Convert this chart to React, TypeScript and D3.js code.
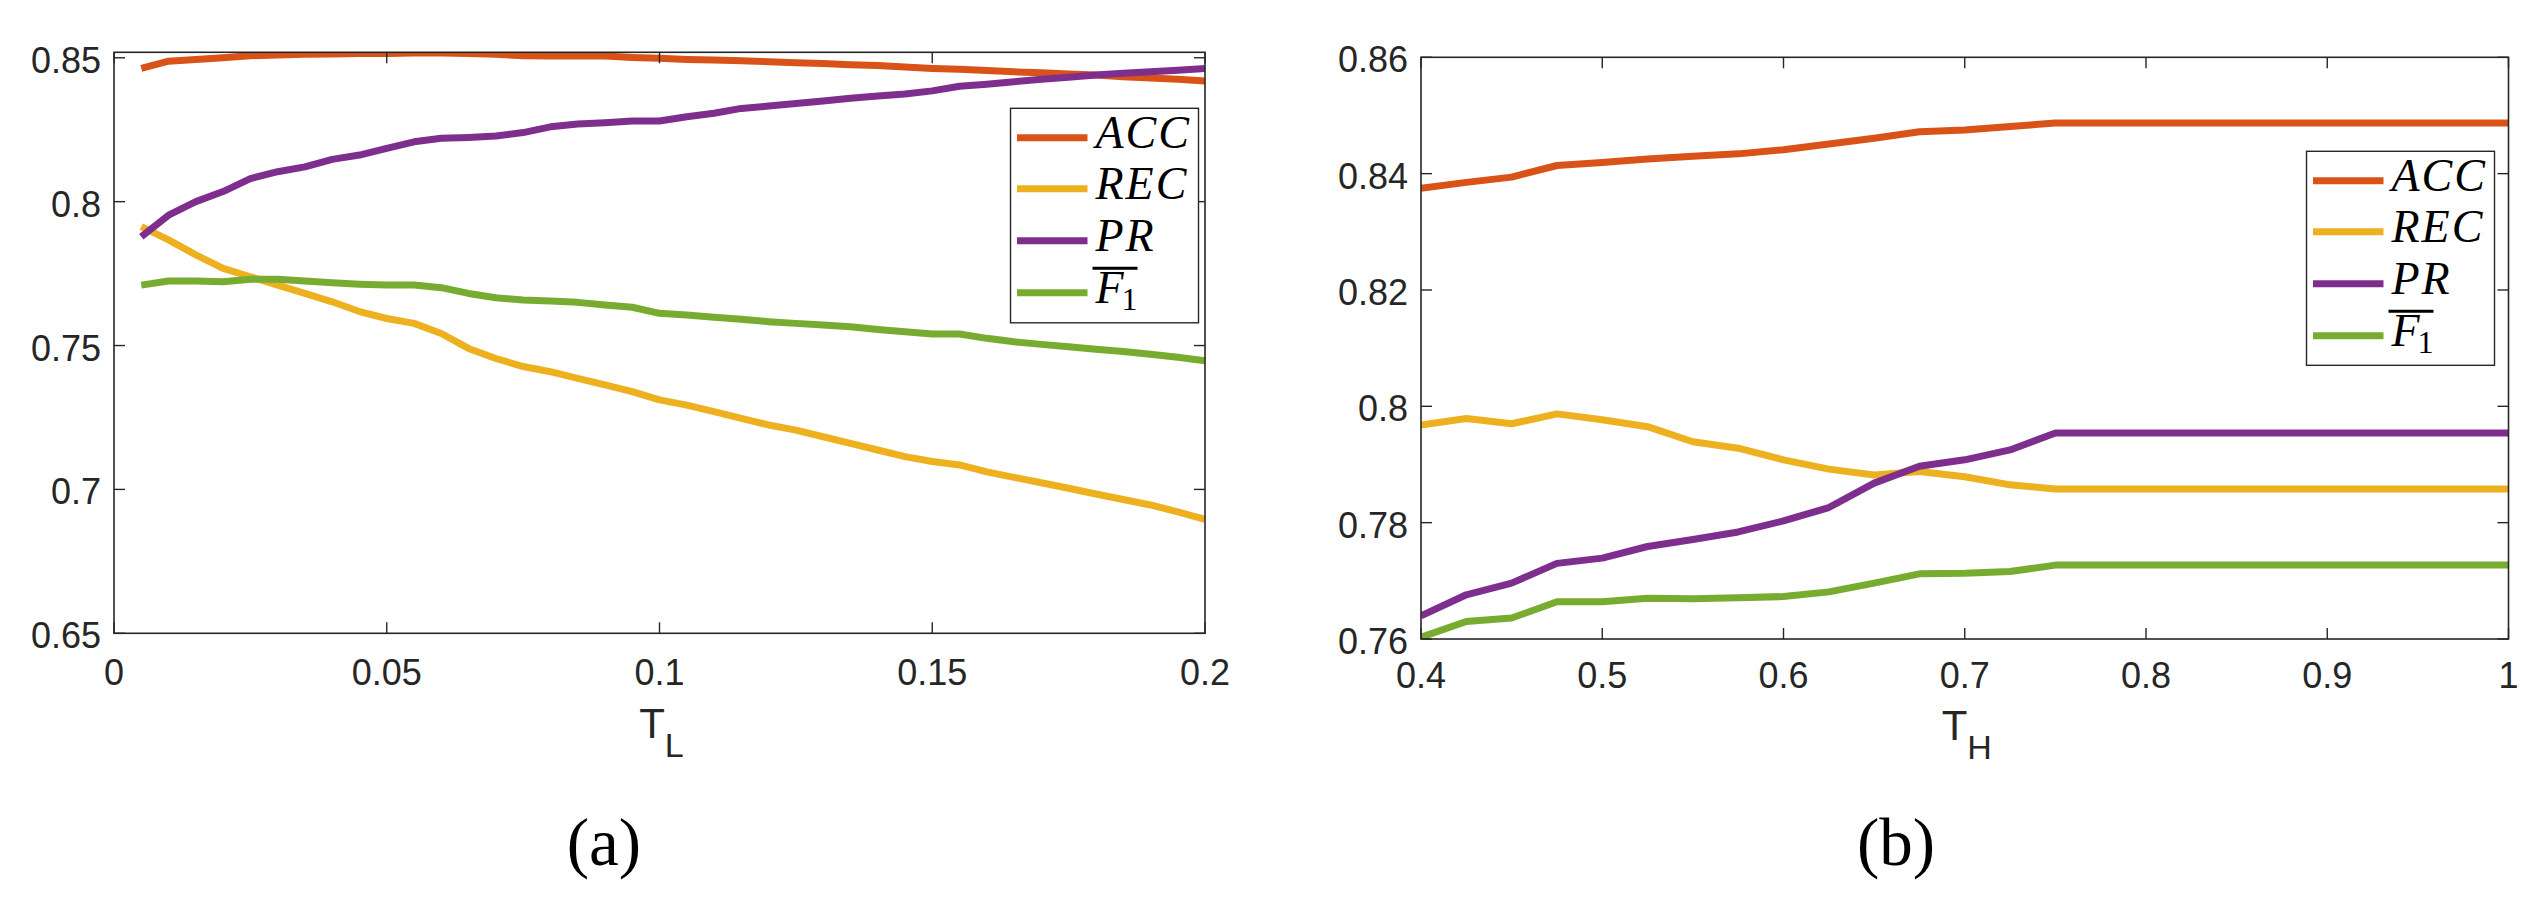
import React from "react";
import * as d3 from "d3";

// ---------- data ----------
const TL = [0.005, 0.01, 0.015, 0.02, 0.025, 0.03, 0.035, 0.04, 0.045, 0.05,
  0.055, 0.06, 0.065, 0.07, 0.075, 0.08, 0.085, 0.09, 0.095, 0.1,
  0.105, 0.11, 0.115, 0.12, 0.125, 0.13, 0.135, 0.14, 0.145, 0.15,
  0.155, 0.16, 0.165, 0.17, 0.175, 0.18, 0.185, 0.19, 0.195, 0.2];

const accL = [0.8463, 0.8488, 0.8494, 0.8500, 0.8507, 0.8510, 0.8512, 0.8513, 0.8515, 0.8515,
  0.8517, 0.8517, 0.8515, 0.8512, 0.8507, 0.8506, 0.8506, 0.8506, 0.8501, 0.8498,
  0.8494, 0.8492, 0.8490, 0.8486, 0.8483, 0.8480, 0.8476, 0.8473, 0.8468, 0.8463,
  0.8460, 0.8456, 0.8451, 0.8448, 0.8444, 0.8440, 0.8434, 0.8430, 0.8425, 0.8419];
const recL = [0.7913, 0.7867, 0.7815, 0.7768, 0.7739, 0.7710, 0.7681, 0.7652, 0.7618, 0.7594,
  0.7577, 0.7542, 0.7490, 0.7455, 0.7427, 0.7409, 0.7386, 0.7363, 0.7340, 0.7311,
  0.7293, 0.7270, 0.7247, 0.7224, 0.7206, 0.7183, 0.7160, 0.7137, 0.7114, 0.7097,
  0.7085, 0.7061, 0.7042, 0.7023, 0.7004, 0.6984, 0.6965, 0.6946, 0.6922, 0.6896];
const prL = [0.7878, 0.7953, 0.8000, 0.8035, 0.8080, 0.8104, 0.8121, 0.8147, 0.8162, 0.8185,
  0.8208, 0.8220, 0.8223, 0.8228, 0.8240, 0.8260, 0.8270, 0.8274, 0.8280, 0.8280,
  0.8295, 0.8307, 0.8324, 0.8332, 0.8341, 0.8350, 0.8359, 0.8367, 0.8374, 0.8385,
  0.8401, 0.8408, 0.8417, 0.8425, 0.8432, 0.8440, 0.8446, 0.8451, 0.8457, 0.8463];
const f1L = [0.7710, 0.7724, 0.7724, 0.7722, 0.7730, 0.7730, 0.7724, 0.7718, 0.7713, 0.7710,
  0.7710, 0.7701, 0.7681, 0.7666, 0.7658, 0.7655, 0.7650, 0.7641, 0.7633, 0.7612,
  0.7606, 0.7598, 0.7591, 0.7583, 0.7577, 0.7571, 0.7565, 0.7556, 0.7548, 0.7540,
  0.7540, 0.7525, 0.7513, 0.7504, 0.7496, 0.7487, 0.7479, 0.7470, 0.7459, 0.7447];

const TH = [0.4, 0.425, 0.45, 0.475, 0.5, 0.525, 0.55, 0.575, 0.6, 0.625,
  0.65, 0.675, 0.7, 0.725, 0.75, 0.775, 0.8, 0.825, 0.85, 0.875,
  0.9, 0.925, 0.95, 0.975, 1.0];
const accH = [0.8375, 0.8385, 0.8394, 0.8414, 0.8419, 0.8425, 0.8430, 0.8434, 0.8441, 0.8451,
  0.8461, 0.8472, 0.8475, 0.8481, 0.8487, 0.8487, 0.8487, 0.8487, 0.8487, 0.8487,
  0.8487, 0.8487, 0.8487, 0.8487, 0.8487];
const recH = [0.7968, 0.7979, 0.7970, 0.7987, 0.7977, 0.7965, 0.7939, 0.7928, 0.7908, 0.7892,
  0.7882, 0.7888, 0.7879, 0.7865, 0.7858, 0.7858, 0.7858, 0.7858, 0.7858, 0.7858,
  0.7858, 0.7858, 0.7858, 0.7858, 0.7858];
const prH = [0.7640, 0.7676, 0.7696, 0.7730, 0.7739, 0.7759, 0.7771, 0.7784, 0.7803, 0.7826,
  0.7868, 0.7897, 0.7908, 0.7925, 0.7954, 0.7954, 0.7954, 0.7954, 0.7954, 0.7954,
  0.7954, 0.7954, 0.7954, 0.7954, 0.7954];
const f1H = [0.7603, 0.7630, 0.7636, 0.7664, 0.7664, 0.7670, 0.7669, 0.7671, 0.7673, 0.7681,
  0.7696, 0.7712, 0.7713, 0.7716, 0.7727, 0.7727, 0.7727, 0.7727, 0.7727, 0.7727,
  0.7727, 0.7727, 0.7727, 0.7727, 0.7727];

const xTicksL = [0, 0.05, 0.1, 0.15, 0.2];
const xTickLabelsL = ["0", "0.05", "0.1", "0.15", "0.2"];
const yTicksL = [0.65, 0.7, 0.75, 0.8, 0.85];
const yTickLabelsL = ["0.65", "0.7", "0.75", "0.8", "0.85"];
const xTicksH = [0.4, 0.5, 0.6, 0.7, 0.8, 0.9, 1.0];
const xTickLabelsH = ["0.4", "0.5", "0.6", "0.7", "0.8", "0.9", "1"];
const yTicksH = [0.76, 0.78, 0.8, 0.82, 0.84, 0.86];
const yTickLabelsH = ["0.76", "0.78", "0.8", "0.82", "0.84", "0.86"];

const seriesNames = ["ACC", "REC", "PR", "F1"];
const seriesColors = ["#D95319", "#EDB120", "#7E2F8E", "#77AC30"];

// ---------- drawing ----------
const AX = "#262626";
const SANS = "'Liberation Sans', Arial, sans-serif";
const SERIF = "'Liberation Serif', 'Times New Roman', serif";
const LW = 7;

type PanelProps = {
  id: string;
  xs: number[];
  ys: number[][];
  xDomain: [number, number];
  yDomain: [number, number];
  x0: number; x1: number; yTop: number; yBot: number;
  xTicks: number[]; xTickLabels: string[];
  yTicks: number[]; yTickLabels: string[];
  sub: string;
  tickDy: number;
  labelDy: number;
  legend: { x: number; y: number; w: number; h: number };
  caption: string;
  captionX: number;
};

function LegendLabel({ name, x, y }: { name: string; x: number; y: number }) {
  if (name === "F1") {
    return (
      <g>
        <line x1={x - 3} x2={x + 42} y1={y - 34.5} y2={y - 34.5} stroke="#000" strokeWidth={3} />
        <text x={x} y={y} fontFamily={SERIF} fontSize={46} fontStyle="italic" fill="#000">
          F
          <tspan fontStyle="normal" fontSize={32} dx={-2} dy={7}>1</tspan>
        </text>
      </g>
    );
  }
  return (
    <text x={x} y={y} fontFamily={SERIF} fontSize={46} fontStyle="italic" letterSpacing={2} fill="#000">{name}</text>
  );
}

function Panel(p: PanelProps) {
  const x = d3.scaleLinear().domain(p.xDomain).range([p.x0, p.x1]);
  const y = d3.scaleLinear().domain(p.yDomain).range([p.yBot, p.yTop]);
  const line = d3.line<number>().x((_, i) => x(p.xs[i])).y((d) => y(d));
  const TK = 11;
  const entryOffsets = [29.5, 80.5, 132.5, 184.5];
  return (
    <g>
      <defs>
        <clipPath id={`clip-${p.id}`}>
          <rect x={p.x0} y={p.yTop} width={p.x1 - p.x0} height={p.yBot - p.yTop} />
        </clipPath>
      </defs>
      <g clipPath={`url(#clip-${p.id})`}>
        {p.ys.map((s, i) => (
          <path key={i} d={line(s) || ""} fill="none" stroke={seriesColors[i]} strokeWidth={LW}
            strokeLinejoin="round" strokeLinecap="butt" />
        ))}
      </g>
      {/* box */}
      <rect x={p.x0} y={p.yTop} width={p.x1 - p.x0} height={p.yBot - p.yTop} fill="none" stroke={AX} strokeWidth={1.6} />
      {/* x ticks */}
      {p.xTicks.map((t, i) => (
        <g key={"xt" + i}>
          <line x1={x(t)} x2={x(t)} y1={p.yBot} y2={p.yBot - TK} stroke={AX} strokeWidth={1.4} />
          <line x1={x(t)} x2={x(t)} y1={p.yTop} y2={p.yTop + TK} stroke={AX} strokeWidth={1.4} />
          <text x={x(t)} y={p.yBot + p.tickDy} textAnchor="middle" fontFamily={SANS} fontSize={36} fill={AX}>
            {p.xTickLabels[i]}
          </text>
        </g>
      ))}
      {/* y ticks */}
      {p.yTicks.map((t, i) => (
        <g key={"yt" + i}>
          <line x1={p.x0} x2={p.x0 + TK} y1={y(t)} y2={y(t)} stroke={AX} strokeWidth={1.4} />
          <line x1={p.x1} x2={p.x1 - TK} y1={y(t)} y2={y(t)} stroke={AX} strokeWidth={1.4} />
          <text x={p.x0 - 13} y={y(t) + 15} textAnchor="end" fontFamily={SANS} fontSize={36} fill={AX}>
            {p.yTickLabels[i]}
          </text>
        </g>
      ))}
      {/* axis label */}
      <text x={(p.x0 + p.x1) / 2 + 2} y={p.yBot + p.labelDy} textAnchor="middle" fontFamily={SANS} fontSize={42} fill={AX}>
        T<tspan fontSize={34} dy={19}>{p.sub}</tspan>
      </text>
      {/* legend */}
      <rect x={p.legend.x} y={p.legend.y} width={p.legend.w} height={p.legend.h} fill="#fff" stroke={AX} strokeWidth={1.4} />
      {seriesNames.map((n, i) => {
        const ly = p.legend.y + entryOffsets[i];
        return (
          <g key={"lg" + i}>
            <line x1={p.legend.x + 6.5} x2={p.legend.x + 77} y1={ly} y2={ly} stroke={seriesColors[i]} strokeWidth={LW} />
            <LegendLabel name={n} x={p.legend.x + 85} y={ly + 10} />
          </g>
        );
      })}
      {/* caption */}
      <text x={p.captionX} y={865} textAnchor="middle" fontFamily={SERIF} fontSize={67} fill="#000">{p.caption}</text>
    </g>
  );
}

export default function App() {
  return (
    <svg width={2545} height={914} xmlns="http://www.w3.org/2000/svg"
      style={{ position: "absolute", left: 0, top: 0, background: "#fff" }}>
      <rect width={2545} height={914} fill="#fff" />
      <Panel id="a" xs={TL} ys={[accL, recL, prL, f1L]} xDomain={[0, 0.2]} yDomain={[0.65, 0.8519]}
        x0={114} x1={1205} yTop={52.3} yBot={633.3}
        xTicks={xTicksL} xTickLabels={xTickLabelsL} yTicks={yTicksL} yTickLabels={yTickLabelsL}
        sub="L" tickDy={52} labelDy={105}
        legend={{ x: 1010.5, y: 108.3, w: 188, h: 214.5 }} caption="(a)" captionX={604} />
      <Panel id="b" xs={TH} ys={[accH, recH, prH, f1H]} xDomain={[0.4, 1.0]} yDomain={[0.76, 0.86]}
        x0={1421} x1={2508.5} yTop={57.3} yBot={639}
        xTicks={xTicksH} xTickLabels={xTickLabelsH} yTicks={yTicksH} yTickLabels={yTickLabelsH}
        sub="H" tickDy={48.5} labelDy={101}
        legend={{ x: 2306.5, y: 151.3, w: 188, h: 214 }} caption="(b)" captionX={1896} />
    </svg>
  );
}
